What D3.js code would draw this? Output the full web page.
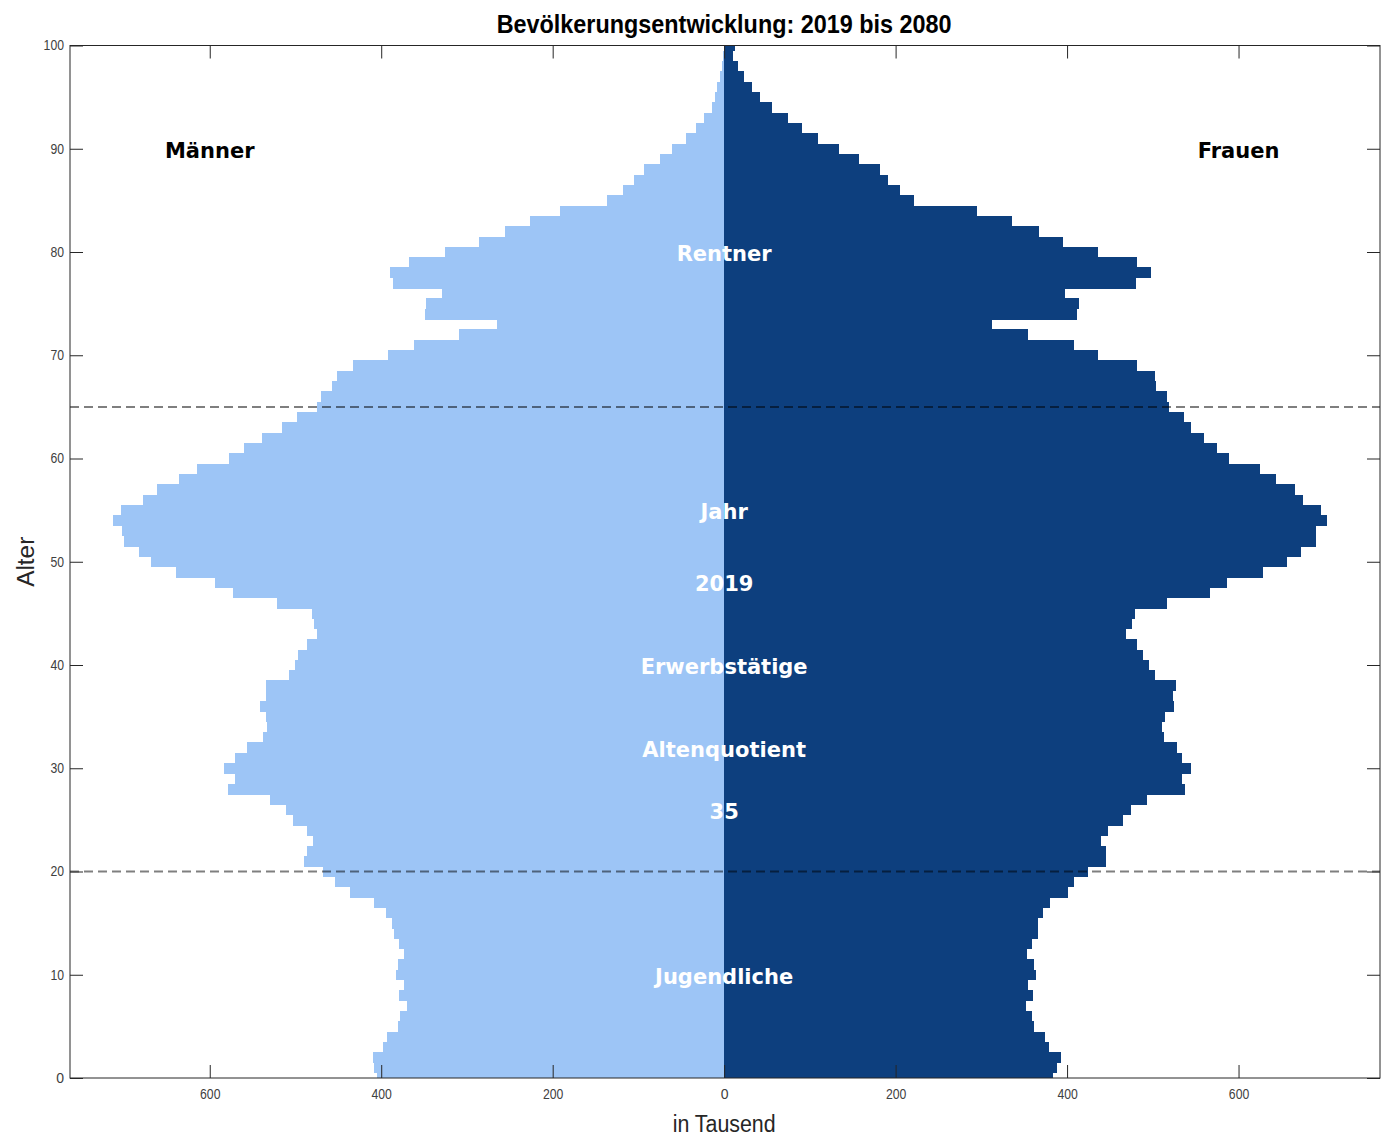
<!DOCTYPE html>
<html>
<head>
<meta charset="utf-8">
<script src="https://cdn.jsdelivr.net/npm/d3@7"></script>
<style>
  html, body { margin: 0; padding: 0; background: #fff; }
  svg { display: block; }
</style>
</head>
<body>
<svg id="chart" width="1383" height="1139"></svg>
<script>
// ---- data (in thousands) ----
const ages = d3.range(0, 101);
const maenner = [
  405, 408, 410, 398, 393, 380, 378, 370, 379, 373,
  383, 381, 374, 379, 385, 387, 394, 408, 436, 454,
  468, 490, 487, 480, 487, 503, 511, 530, 579, 570,
  583, 570, 556, 538, 533, 534, 541, 534, 534, 508,
  501, 497, 486, 475, 478, 481, 522, 573, 594, 639,
  668, 683, 700, 702, 713, 703, 678, 662, 636, 615,
  578, 560, 539, 516, 498, 475, 470, 457, 452, 433,
  392, 362, 309, 265, 349, 348, 329, 386, 390, 368,
  326, 286, 256, 226, 191, 137, 118, 105, 93, 75,
  61, 44, 33, 23, 14, 10.5, 8.6, 5.4, 2.7, 1.2,
  0.6
];
const frauen = [
  384, 388, 393, 379, 374, 361, 359, 352, 360, 354,
  364, 361, 353, 359, 366, 366, 372, 380, 401, 408,
  424, 445, 445, 440, 448, 465, 475, 493, 538, 534,
  545, 534, 528, 513, 511, 514, 525, 524, 527, 502,
  495, 489, 482, 469, 476, 479, 517, 567, 587, 628,
  657, 673, 690, 690, 703, 696, 675, 666, 644, 625,
  589, 575, 560, 544, 536, 519, 517, 504, 502, 481,
  436, 408, 354, 312, 412, 414, 397, 480, 498, 482,
  436, 395, 367, 336, 295, 222, 205, 191, 182, 157,
  134, 109, 91, 74, 56, 42, 32, 23, 16, 10,
  13
];
const xTicks = [-600, -400, -200, 0, 200, 400, 600];
const yTicks = [0, 10, 20, 30, 40, 50, 60, 70, 80, 90, 100];
const groupLines = [65, 20];
const centerLabels = [
  { text: "Rentner", age: 80 },
  { text: "Jahr", age: 55 },
  { text: "2019", age: 48 },
  { text: "Erwerbstätige", age: 40 },
  { text: "Altenquotient", age: 32 },
  { text: "35", age: 26 },
  { text: "Jugendliche", age: 10 }
];
const sideLabels = [
  { text: "Männer", value: -600, age: 90 },
  { text: "Frauen", value: 600, age: 90 }
];
const chartTitle = "Bevölkerungsentwicklung: 2019 bis 2080";

// ---- layout ----
const pL = 70, pR = 1380, pT = 45.5, pB = 1078;
const svg = d3.select("#chart");
const x = d3.scaleLinear().domain([-763, 765]).range([pL, pR]);
const y = d3.scaleLinear().domain([0, 100]).range([pB, pT]);

const light = "#9dc5f6", dark = "#0d3f7e";
const sans = "'Liberation Sans', Arial, sans-serif";

svg.append("defs").append("clipPath").attr("id", "plotclip")
  .append("rect").attr("x", pL).attr("y", pT)
  .attr("width", pR - pL).attr("height", pB - pT);

const plot = svg.append("g").attr("clip-path", "url(#plotclip)")
  .attr("shape-rendering", "crispEdges");

const bh = y(0) - y(1);
plot.selectAll("rect.m").data(ages).join("rect").attr("class", "m")
  .attr("x", a => x(-maenner[a]))
  .attr("width", a => x(0) - x(-maenner[a]))
  .attr("y", a => y(a + 0.5))
  .attr("height", bh + 0.5)
  .attr("fill", light);

plot.selectAll("rect.f").data(ages).join("rect").attr("class", "f")
  .attr("x", x(0))
  .attr("width", a => x(frauen[a]) - x(0))
  .attr("y", a => y(a + 0.5))
  .attr("height", bh + 0.5)
  .attr("fill", dark);

// dashed group lines
svg.append("g").selectAll("line.grp").data(groupLines).join("line").attr("class", "grp")
  .attr("x1", pL).attr("x2", pR)
  .attr("y1", d => y(d)).attr("y2", d => y(d))
  .attr("stroke", "rgba(0,0,0,0.5)").attr("stroke-width", 2)
  .attr("stroke-dasharray", "9,5");

// center labels
svg.selectAll("text.cl").data(centerLabels).join("text").attr("class", "cl")
  .attr("x", x(0)).attr("y", d => y(d.age) + 2)
  .attr("text-anchor", "middle").attr("dominant-baseline", "central")
  .attr("font-family", "'DejaVu Sans', sans-serif").attr("font-weight", "bold")
  .attr("font-size", 21).attr("fill", "#fff")
  .text(d => d.text);

svg.selectAll("text.sl").data(sideLabels).join("text").attr("class", "sl")
  .attr("x", d => x(d.value)).attr("y", d => y(d.age) + 2)
  .attr("text-anchor", "middle").attr("dominant-baseline", "central")
  .attr("font-family", "'DejaVu Sans', sans-serif").attr("font-weight", "bold")
  .attr("font-size", 21).attr("fill", "#000")
  .text(d => d.text);

// axes
const axisColor = "#262626";
const tickLen = 13;
function styleAxis(g) {
  g.select(".domain").remove();
  g.selectAll(".tick line").attr("stroke", axisColor);
  g.selectAll(".tick text").attr("fill", "#404040")
    .attr("font-family", sans).attr("font-size", 14);
}
const xb = svg.append("g").attr("transform", `translate(0,${pB})`)
  .call(d3.axisBottom(x).tickValues(xTicks).tickSize(-tickLen).tickPadding(11)
    .tickFormat(d => Math.abs(d)))
  .call(styleAxis);
xb.selectAll(".tick text").each(function () {
  const n = this.textContent.length;
  if (n > 1) d3.select(this).attr("textLength", n * 6.8).attr("lengthAdjust", "spacingAndGlyphs");
});
svg.append("g").attr("transform", `translate(0,${pT})`)
  .call(d3.axisTop(x).tickValues(xTicks).tickSize(-tickLen).tickFormat(""))
  .call(styleAxis);
const yl = svg.append("g").attr("transform", `translate(${pL},0)`)
  .call(d3.axisLeft(y).tickValues(yTicks).tickSize(-tickLen).tickPadding(6))
  .call(styleAxis);
yl.selectAll(".tick text").each(function () {
  const n = this.textContent.length;
  if (n > 1) d3.select(this).attr("textLength", n * 6.8).attr("lengthAdjust", "spacingAndGlyphs");
});
svg.append("g").attr("transform", `translate(${pR},0)`)
  .call(d3.axisRight(y).tickValues(yTicks).tickSize(-tickLen).tickFormat(""))
  .call(styleAxis);

svg.append("rect").attr("x", pL).attr("y", pT)
  .attr("width", pR - pL).attr("height", pB - pT)
  .attr("fill", "none").attr("stroke", axisColor).attr("stroke-width", 1);

// title & axis labels
svg.append("text").attr("x", x(0)).attr("y", 33)
  .attr("text-anchor", "middle").attr("font-family", sans)
  .attr("font-weight", "bold").attr("font-size", 26).attr("fill", "#000")
  .attr("textLength", 455).attr("lengthAdjust", "spacingAndGlyphs")
  .text(chartTitle);

svg.append("text").attr("x", x(0)).attr("y", 1132)
  .attr("text-anchor", "middle").attr("font-family", sans)
  .attr("font-size", 23).attr("fill", "#262626")
  .attr("textLength", 103).attr("lengthAdjust", "spacingAndGlyphs")
  .text("in Tausend");

svg.append("text")
  .attr("transform", `translate(34,${y(50)}) rotate(-90)`)
  .attr("text-anchor", "middle").attr("font-family", sans)
  .attr("font-size", 23).attr("fill", "#262626")
  .attr("textLength", 50).attr("lengthAdjust", "spacingAndGlyphs")
  .text("Alter");
</script>
</body>
</html>
